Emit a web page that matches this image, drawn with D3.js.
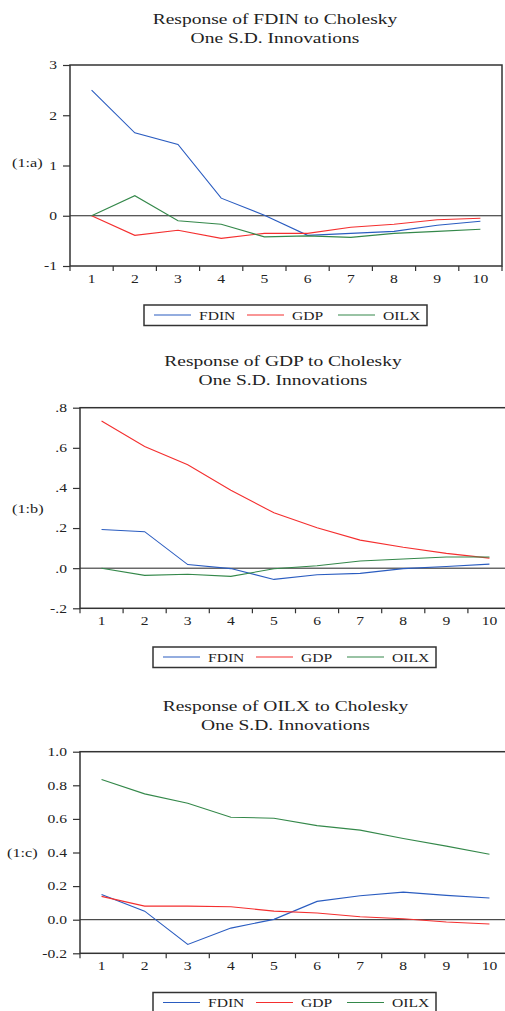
<!DOCTYPE html>
<html>
<head>
<meta charset="utf-8">
<script src="https://cdn.jsdelivr.net/npm/d3@7"></script>
<style>
  html, body { margin: 0; padding: 0; background: #fff; }
  svg { display: block; }
  text { font-family: "Liberation Serif", "Times New Roman", serif; fill: #222; }
</style>
</head>
<body>
<svg id="chart" width="505" height="1011"></svg>
<script>
// ---------- DATA ----------
const periods = [1, 2, 3, 4, 5, 6, 7, 8, 9, 10];
const seriesNames = ["FDIN", "GDP", "OILX"];

// Response of FDIN
const fdinToFDIN = [2.50, 1.65, 1.42, 0.35, 0.01, -0.39, -0.35, -0.31, -0.19, -0.11];
const fdinToGDP  = [0.00, -0.39, -0.29, -0.45, -0.35, -0.35, -0.23, -0.17, -0.08, -0.05];
const fdinToOILX = [0.00, 0.40, -0.10, -0.17, -0.42, -0.40, -0.43, -0.35, -0.31, -0.27];

// Response of GDP
const gdpToFDIN = [0.193, 0.182, 0.018, -0.002, -0.056, -0.033, -0.026, -0.002, 0.008, 0.020];
const gdpToGDP  = [0.734, 0.607, 0.516, 0.388, 0.276, 0.202, 0.140, 0.104, 0.074, 0.050];
const gdpToOILX = [0.000, -0.036, -0.030, -0.041, -0.003, 0.012, 0.036, 0.046, 0.056, 0.056];

// Response of OILX
const oilxToFDIN = [0.150, 0.051, -0.147, -0.050, 0.002, 0.109, 0.143, 0.164, 0.145, 0.129];
const oilxToGDP  = [0.139, 0.081, 0.081, 0.077, 0.051, 0.040, 0.018, 0.006, -0.014, -0.026];
const oilxToOILX = [0.835, 0.749, 0.693, 0.610, 0.604, 0.560, 0.533, 0.483, 0.438, 0.390];

// Tick values / labels
const ticksA = [3, 2, 1, 0, -1];
const tickLabelsA = ["3", "2", "1", "0", "-1"];
const ticksB = [0.8, 0.6, 0.4, 0.2, 0.0, -0.2];
const tickLabelsB = [".8", ".6", ".4", ".2", ".0", "-.2"];
const ticksC = [1.0, 0.8, 0.6, 0.4, 0.2, 0.0, -0.2];
const tickLabelsC = ["1.0", "0.8", "0.6", "0.4", "0.2", "0.0", "-0.2"];

// ---------- LAYOUT / STYLE ----------
const colors = { FDIN: "#2a5cc0", GDP: "#f42f2f", OILX: "#34884a" };
const SX = 1.3; // horizontal stretch of text in the reference

const panels = [
  { title: "Response of FDIN to Cholesky", titleX: 275, titleY: 24,
    side: "(1:a)", sideX: 12, sideY: 167,
    series: [fdinToFDIN, fdinToGDP, fdinToOILX],
    ticks: ticksA, tickLabels: tickLabelsA, domain: [-1, 3],
    left: 70, right: 502, top: 65, bottom: 266, legendX: 144, legendY: 305 },
  { title: "Response of GDP to Cholesky", titleX: 283, titleY: 366,
    side: "(1:b)", sideX: 12, sideY: 513,
    series: [gdpToFDIN, gdpToGDP, gdpToOILX],
    ticks: ticksB, tickLabels: tickLabelsB, domain: [-0.2, 0.8],
    left: 80, right: 511, top: 407.7, bottom: 608.3, legendX: 153, legendY: 647 },
  { title: "Response of OILX to Cholesky", titleX: 285.5, titleY: 711,
    side: "(1:c)", sideX: 7, sideY: 857,
    series: [oilxToFDIN, oilxToGDP, oilxToOILX],
    ticks: ticksC, tickLabels: tickLabelsC, domain: [-0.2, 1.0],
    left: 80, right: 511, top: 751.7, bottom: 953.3, legendX: 153, legendY: 992.5 }
];

const svg = d3.select("#chart");

function stretchText(g, x, y, str, anchor, size) {
  return g.append("text")
    .attr("transform", `translate(${x},${y}) scale(${SX},1)`)
    .attr("text-anchor", anchor)
    .attr("font-size", size)
    .text(str);
}

panels.forEach(p => {
  const g = svg.append("g");
  const x = d3.scaleBand().domain(periods).range([p.left, p.right]).padding(0);
  const y = d3.scaleLinear().domain(p.domain).range([p.bottom, p.top]);
  const cx = d => x(d) + x.bandwidth() / 2;

  // Titles
  stretchText(g, p.titleX, p.titleY, p.title, "middle", 15);
  stretchText(g, p.titleX, p.titleY + 19, "One S.D. Innovations", "middle", 15);

  // side label
  stretchText(g, p.sideX, p.sideY, p.side, "start", 12.5);

  // Y axis
  const yAxis = g.append("g")
    .attr("transform", `translate(${p.left},0)`)
    .call(d3.axisLeft(y).tickValues(p.ticks)
      .tickFormat((d, i) => p.tickLabels[i]).tickSize(7).tickPadding(6));
  yAxis.select(".domain").remove();
  yAxis.attr("font-family", null).attr("font-size", null);
  yAxis.selectAll(".tick line").attr("stroke", "#333").attr("stroke-width", 1.2);
  yAxis.selectAll(".tick text").each(function () {
    const t = d3.select(this);
    const tx = +t.attr("x");
    t.attr("x", 0).attr("transform", `translate(${tx},0) scale(${SX},1)`)
      .attr("font-size", 12).attr("fill", null);
  });

  // X axis labels
  const xAxis = g.append("g")
    .attr("transform", `translate(0,${p.bottom})`)
    .call(d3.axisBottom(x).tickSize(0).tickPadding(8.5));
  xAxis.select(".domain").remove();
  xAxis.attr("font-family", null).attr("font-size", null);
  xAxis.selectAll(".tick text").each(function () {
    d3.select(this).attr("transform", `scale(${SX},1)`).attr("font-size", 12).attr("fill", null);
  });

  // X boundary ticks
  const bounds = periods.map(d => x(d)).concat([p.right]);
  g.append("g").selectAll("line").data(bounds).join("line")
    .attr("x1", d => d).attr("x2", d => d)
    .attr("y1", p.bottom).attr("y2", p.bottom + 5)
    .attr("stroke", "#333").attr("stroke-width", 1.2);

  // zero line
  g.append("line")
    .attr("x1", p.left).attr("x2", p.right)
    .attr("y1", y(0)).attr("y2", y(0))
    .attr("stroke", "#222").attr("stroke-width", 1);

  // series lines
  const line = d3.line().x((d, i) => cx(periods[i])).y(d => y(d));
  p.series.forEach((s, k) => {
    g.append("path").datum(s)
      .attr("fill", "none")
      .attr("stroke", colors[seriesNames[k]])
      .attr("stroke-width", 1.1)
      .attr("d", line);
  });

  // frame
  g.append("rect")
    .attr("x", p.left).attr("y", p.top)
    .attr("width", p.right - p.left).attr("height", p.bottom - p.top)
    .attr("fill", "none").attr("stroke", "#333").attr("stroke-width", 1.5);

  // legend
  const lg = g.append("g").attr("transform", `translate(${p.legendX},${p.legendY})`);
  lg.append("rect").attr("x", 0).attr("y", 0).attr("width", 283).attr("height", 20.5)
    .attr("fill", "#fff").attr("stroke", "#333").attr("stroke-width", 1.5);
  const itemX = [10, 103, 194];
  seriesNames.forEach((n, k) => {
    lg.append("line")
      .attr("x1", itemX[k]).attr("x2", itemX[k] + 37)
      .attr("y1", 10).attr("y2", 10)
      .attr("stroke", colors[n]).attr("stroke-width", 1.1);
    stretchText(lg, itemX[k] + 45, 14.5, n, "start", 12);
  });
});
</script>
</body>
</html>
